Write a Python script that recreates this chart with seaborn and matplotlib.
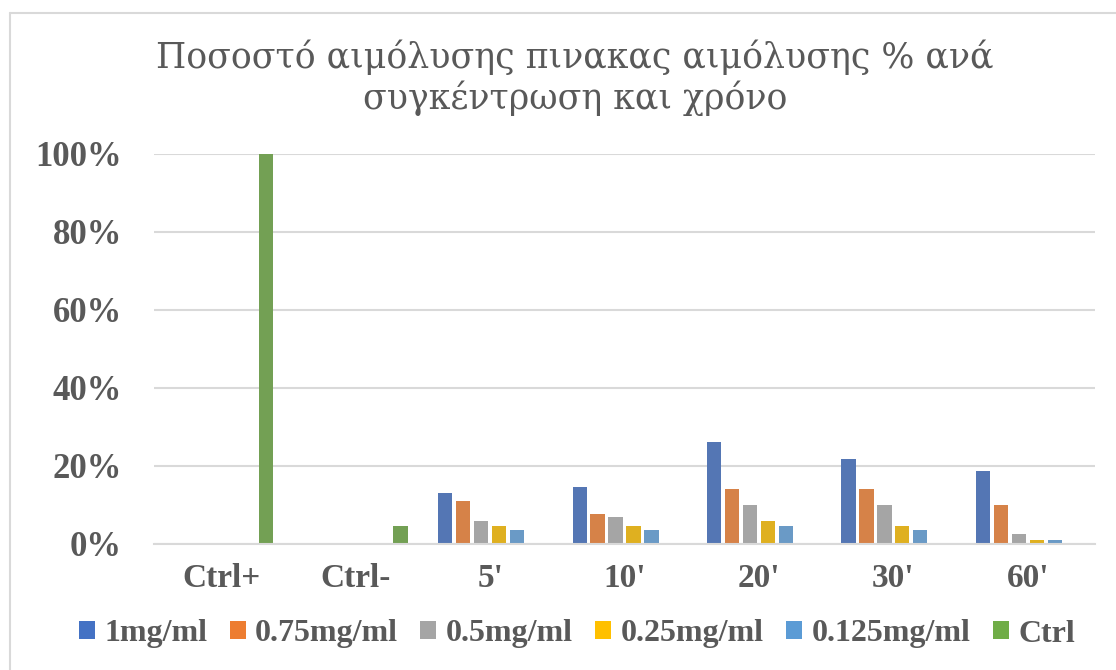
import matplotlib
matplotlib.use("Agg")
import matplotlib.pyplot as plt
from matplotlib.lines import Line2D
from matplotlib.patches import Patch
from matplotlib.ticker import PercentFormatter
import seaborn as sns
import pandas as pd

# Categories on the x axis
categories = ["Ctrl+", "Ctrl-", "5'", "10'", "20'", "30'", "60'"]

# Haemolysis fractions per concentration (one value per category)
conc_1 = [0.0, 0.0, 0.130, 0.146, 0.261, 0.219, 0.188]
conc_075 = [0.0, 0.0, 0.110, 0.078, 0.141, 0.141, 0.099]
conc_05 = [0.0, 0.0, 0.058, 0.068, 0.099, 0.099, 0.026]
conc_025 = [0.0, 0.0, 0.047, 0.047, 0.058, 0.047, 0.011]
conc_0125 = [0.0, 0.0, 0.037, 0.037, 0.047, 0.037, 0.011]
ctrl = [1.0, 0.047, 0.0, 0.0, 0.0, 0.0, 0.0]

series_names = ["1mg/ml", "0.75mg/ml", "0.5mg/ml", "0.25mg/ml", "0.125mg/ml", "Ctrl"]
series_values = [conc_1, conc_075, conc_05, conc_025, conc_0125, ctrl]
colors = ["#4472C4", "#ED7D31", "#A5A5A5", "#FFC000", "#5B9BD5", "#70AD47"]

rows = []
for name, vals in zip(series_names, series_values):
    for cat, v in zip(categories, vals):
        rows.append({"category": cat, "series": name, "value": v})
df = pd.DataFrame(rows)

sns.set_theme(style="white")
plt.rcParams["font.family"] = ["Liberation Serif", "DejaVu Serif"]

text_gray = "#595959"
grid_gray = "#D9D9D9"

fig = plt.figure(figsize=(11.16, 6.70), dpi=100)
ax = fig.add_axes([154 / 1116, 126 / 670, (1095 - 154) / 1116, (544 - 154) / 670])

sns.barplot(data=df, x="category", y="value", hue="series",
            order=categories, hue_order=series_names,
            palette=colors, width=0.8, gap=0.2, linewidth=0,
            errorbar=None, legend=False, ax=ax)

ax.set_ylim(0, 1.0)
ax.set_yticks([0, 0.2, 0.4, 0.6, 0.8, 1.0])
ax.yaxis.set_major_formatter(PercentFormatter(1.0, decimals=0))
ax.set_xlabel("")
ax.set_ylabel("")
ax.grid(axis="y", color=grid_gray, linewidth=1.5)
ax.set_axisbelow(True)
for side in ["top", "right", "left"]:
    ax.spines[side].set_visible(False)
ax.spines["bottom"].set_color(grid_gray)
ax.spines["bottom"].set_linewidth(1.5)
ax.tick_params(axis="both", length=0)
ax.tick_params(axis="y", pad=23, labelsize=25, labelcolor=text_gray)
ax.tick_params(axis="x", pad=14, labelsize=24, labelcolor=text_gray)
for lbl in ax.get_yticklabels() + ax.get_xticklabels():
    lbl.set_fontweight("bold")

fig.text(575 / 1116, 1 - 78 / 670,
         "Ποσοστό αιμόλυσης πινακας αιμόλυσης % ανά\nσυγκέντρωση και χρόνο",
         ha="center", va="center", fontsize=25, color=text_gray,
         family=["DejaVu Serif"], linespacing=1.2)

handles = [Patch(facecolor=c, edgecolor="none") for c in colors]
fig.legend(handles, series_names, loc="center", ncol=6,
           bbox_to_anchor=(577 / 1116, 1 - 634 / 670),
           frameon=False, handlelength=0.5, handleheight=0.46,
           handletextpad=0.3, columnspacing=0.7,
           prop={"size": 23, "weight": "bold"}, labelcolor=text_gray)

# Chart frame edges
fig.add_artist(Line2D([10 / 1116, 10 / 1116], [0, 1 - 13 / 670],
                      transform=fig.transFigure, color=grid_gray, linewidth=1.5))
fig.add_artist(Line2D([10 / 1116, 1.0], [1 - 13 / 670, 1 - 13 / 670],
                      transform=fig.transFigure, color=grid_gray, linewidth=1.5))

fig.savefig("out.png", dpi=100, facecolor="white")
